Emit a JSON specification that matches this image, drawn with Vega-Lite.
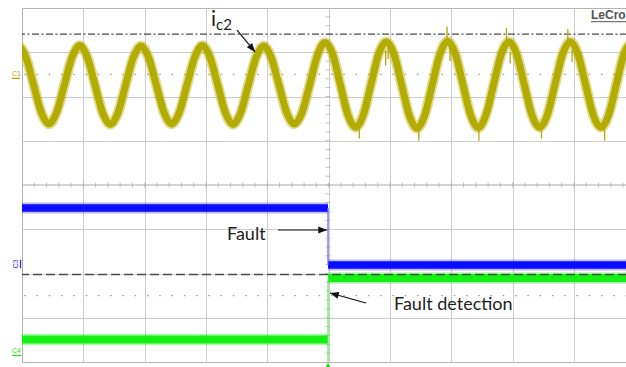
{
  "$schema": "https://vega.github.io/schema/vega-lite/v6.json",
  "width": 605,
  "height": 354,
  "autosize": {"type": "none"},
  "padding": {"left": 22, "top": 8, "right": 0, "bottom": 5},
  "background": "white",
  "config": {
    "view": {"stroke": "#b4b4b4", "strokeWidth": 1},
    "font": "Lato",
    "axis": {"labels": false, "ticks": false, "domain": false, "title": null, "grid": true, "gridColor": "#cdcdcd", "gridWidth": 1}
  },
  "datasets": {
    "sine": [
      {"t": -0.185, "v": 6.88},
      {"t": -0.06, "v": 7.14}, {"t": 0.065, "v": 6.88}, {"t": 0.19, "v": 6.26}, {"t": 0.315, "v": 5.64}, {"t": 0.44, "v": 5.38}, {"t": 0.565, "v": 5.64}, {"t": 0.69, "v": 6.26}, {"t": 0.815, "v": 6.88},
      {"t": 0.94, "v": 7.15}, {"t": 1.065, "v": 6.89}, {"t": 1.19, "v": 6.26}, {"t": 1.315, "v": 5.63}, {"t": 1.44, "v": 5.37}, {"t": 1.565, "v": 5.63}, {"t": 1.69, "v": 6.26}, {"t": 1.815, "v": 6.88},
      {"t": 1.94, "v": 7.14}, {"t": 2.065, "v": 6.88}, {"t": 2.19, "v": 6.26}, {"t": 2.315, "v": 5.64}, {"t": 2.44, "v": 5.38}, {"t": 2.565, "v": 5.64}, {"t": 2.69, "v": 6.26}, {"t": 2.815, "v": 6.88},
      {"t": 2.94, "v": 7.15}, {"t": 3.065, "v": 6.89}, {"t": 3.19, "v": 6.27}, {"t": 3.315, "v": 5.64}, {"t": 3.44, "v": 5.37}, {"t": 3.565, "v": 5.63}, {"t": 3.69, "v": 6.26}, {"t": 3.815, "v": 6.88},
      {"t": 3.94, "v": 7.14}, {"t": 4.065, "v": 6.88}, {"t": 4.19, "v": 6.26}, {"t": 4.315, "v": 5.64}, {"t": 4.44, "v": 5.38}, {"t": 4.565, "v": 5.63}, {"t": 4.69, "v": 6.26}, {"t": 4.815, "v": 6.92},
      {"t": 4.94, "v": 7.22}, {"t": 5.065, "v": 6.96}, {"t": 5.19, "v": 6.27}, {"t": 5.315, "v": 5.58}, {"t": 5.44, "v": 5.3}, {"t": 5.565, "v": 5.58}, {"t": 5.69, "v": 6.27}, {"t": 5.815, "v": 6.96},
      {"t": 5.94, "v": 7.24}, {"t": 6.065, "v": 6.96}, {"t": 6.19, "v": 6.27}, {"t": 6.315, "v": 5.57}, {"t": 6.44, "v": 5.28}, {"t": 6.565, "v": 5.57}, {"t": 6.69, "v": 6.27}, {"t": 6.815, "v": 6.96},
      {"t": 6.94, "v": 7.25}, {"t": 7.065, "v": 6.97}, {"t": 7.19, "v": 6.27}, {"t": 7.315, "v": 5.58}, {"t": 7.44, "v": 5.29}, {"t": 7.565, "v": 5.58}, {"t": 7.69, "v": 6.27}, {"t": 7.815, "v": 6.96},
      {"t": 7.94, "v": 7.24}, {"t": 8.065, "v": 6.96}, {"t": 8.19, "v": 6.27}, {"t": 8.315, "v": 5.58}, {"t": 8.44, "v": 5.3}, {"t": 8.565, "v": 5.58}, {"t": 8.69, "v": 6.27}, {"t": 8.815, "v": 6.96},
      {"t": 8.94, "v": 7.24}, {"t": 9.065, "v": 6.96}, {"t": 9.19, "v": 6.27}, {"t": 9.315, "v": 5.58}, {"t": 9.44, "v": 5.3}, {"t": 9.565, "v": 5.58}, {"t": 9.69, "v": 6.27}, {"t": 9.815, "v": 6.96},
      {"t": 9.94, "v": 7.24}
    ],
    "spikes": [
      {"t": 5.93, "v": 6.7, "v2": 7.05}, {"t": 5.97, "v": 6.85, "v2": 7.1},
      {"t": 6.93, "v": 7.25, "v2": 7.58}, {"t": 6.98, "v": 6.8, "v2": 7.1},
      {"t": 7.9, "v": 7.25, "v2": 7.55}, {"t": 7.96, "v": 6.75, "v2": 7.0},
      {"t": 8.9, "v": 7.25, "v2": 7.53}, {"t": 8.97, "v": 6.78, "v2": 7.05},
      {"t": 5.5, "v": 5.05, "v2": 5.3}, {"t": 6.47, "v": 5.0, "v2": 5.25},
      {"t": 7.45, "v": 5.0, "v2": 5.25}, {"t": 8.47, "v": 5.05, "v2": 5.3},
      {"t": 9.5, "v": 5.0, "v2": 5.3}, {"t": 5.1, "v": 6.6, "v2": 6.95},
      {"t": 6.62, "v": 5.7, "v2": 6.0}
    ],
    "dig": [
      {"t": 0, "v": 3.48, "ch": "C3", "seg": "a"}, {"t": 4.99, "v": 3.48, "ch": "C3", "seg": "a"},
      {"t": 4.99, "v": 2.19, "ch": "C3", "seg": "b"}, {"t": 9.95, "v": 2.19, "ch": "C3", "seg": "b"},
      {"t": 0, "v": 0.51, "ch": "C4", "seg": "c"}, {"t": 4.99, "v": 0.51, "ch": "C4", "seg": "c"},
      {"t": 4.99, "v": 1.9, "ch": "C4", "seg": "d"}, {"t": 9.95, "v": 1.9, "ch": "C4", "seg": "d"}
    ],
    "edges": [
      {"ch": "C3", "t": 4.99, "v": 3.48, "v2": 2.19},
      {"ch": "C4", "t": 4.99, "v": 0, "v2": 1.9}
    ],
    "mx": [
      {"t": 0.2}, {"t": 0.4}, {"t": 0.6}, {"t": 0.8}, {"t": 1}, {"t": 1.2}, {"t": 1.4}, {"t": 1.6}, {"t": 1.8}, {"t": 2},
      {"t": 2.2}, {"t": 2.4}, {"t": 2.6}, {"t": 2.8}, {"t": 3}, {"t": 3.2}, {"t": 3.4}, {"t": 3.6}, {"t": 3.8}, {"t": 4},
      {"t": 4.2}, {"t": 4.4}, {"t": 4.6}, {"t": 4.8}, {"t": 5}, {"t": 5.2}, {"t": 5.4}, {"t": 5.6}, {"t": 5.8}, {"t": 6},
      {"t": 6.2}, {"t": 6.4}, {"t": 6.6}, {"t": 6.8}, {"t": 7}, {"t": 7.2}, {"t": 7.4}, {"t": 7.6}, {"t": 7.8}, {"t": 8},
      {"t": 8.2}, {"t": 8.4}, {"t": 8.6}, {"t": 8.8}, {"t": 9}, {"t": 9.2}, {"t": 9.4}, {"t": 9.6}, {"t": 9.8}
    ],
    "my": [
      {"v": 0.2}, {"v": 0.4}, {"v": 0.6}, {"v": 0.8}, {"v": 1}, {"v": 1.2}, {"v": 1.4}, {"v": 1.6}, {"v": 1.8}, {"v": 2},
      {"v": 2.2}, {"v": 2.4}, {"v": 2.6}, {"v": 2.8}, {"v": 3}, {"v": 3.2}, {"v": 3.4}, {"v": 3.6}, {"v": 3.8}, {"v": 4},
      {"v": 4.2}, {"v": 4.4}, {"v": 4.6}, {"v": 4.8}, {"v": 5}, {"v": 5.2}, {"v": 5.4}, {"v": 5.6}, {"v": 5.8}, {"v": 6},
      {"v": 6.2}, {"v": 6.4}, {"v": 6.6}, {"v": 6.8}, {"v": 7}, {"v": 7.2}, {"v": 7.4}, {"v": 7.6}, {"v": 7.8}
    ],
    "arrows": [
      {"name": "ic2", "t": 3.506, "v": 7.5, "t2": 3.8, "v2": 7.006},
      {"name": "fault", "t": 4.174, "v": 2.983, "t2": 4.974, "v2": 2.983},
      {"name": "det", "t": 5.609, "v": 1.333, "t2": 5.022, "v2": 1.559}
    ],
    "labels": [
      {"t": 3.343, "v": 2.757, "label": "Fault"},
      {"t": 6.066, "v": 1.175, "label": "Fault detection"}
    ],
    "ilabel": [{"t": 3.08, "v": 7.593, "label": "i"}],
    "sublabel": [{"t": 3.165, "v": 7.503, "label": "c2"}],
    "brand": [{"t": 9.278, "v": 7.75, "t2": 9.95, "v2": 7.69, "label": "LeCroy"}],
    "chan": [
      {"ch": "C1", "t": -0.163, "v": 6.46, "ut": -0.163, "ut2": -0.033, "uv": 6.41, "uv2": 6.41},
      {"ch": "C3", "t": -0.07, "v": 2.22, "ut": -0.024, "ut2": -0.024, "uv": 2.31, "uv2": 2.12},
      {"ch": "C4", "t": -0.163, "v": 0.2, "ut": -0.163, "ut2": -0.01, "uv": 0.147, "uv2": 0.147}
    ],
    "trig": [{"t": 4.99, "v": -0.02}]
  },
  "layer": [
    {
      "data": {"name": "mx"},
      "mark": {"type": "tick", "orient": "vertical", "size": 5, "thickness": 1, "color": "#a9a9a9"},
      "encoding": {
        "x": {"field": "t", "type": "quantitative", "scale": {"domain": [0, 9.865], "nice": false, "zero": false}, "axis": {"values": [1, 2, 3, 4, 5, 6, 7, 8, 9]}},
        "y": {"datum": 4, "type": "quantitative", "scale": {"domain": [0, 8], "nice": false, "zero": false}, "axis": {"values": [1, 2, 3, 5, 6, 7]}}
      }
    },
    {
      "data": {"name": "my"},
      "mark": {"type": "tick", "orient": "horizontal", "size": 5, "thickness": 1, "color": "#a9a9a9"},
      "encoding": {"y": {"field": "v", "type": "quantitative"}, "x": {"datum": 4.99}}
    },
    {
      "data": {"values": [{}]},
      "mark": {"type": "rule", "color": "#a9a9a9", "strokeWidth": 1},
      "encoding": {"y": {"datum": 4}}
    },
    {
      "data": {"values": [{}]},
      "mark": {"type": "rule", "color": "#9a9a9a", "strokeWidth": 1.2, "strokeDash": [1.5, 10.77]},
      "encoding": {"y": {"datum": 6.5}}
    },
    {
      "data": {"values": [{}]},
      "mark": {"type": "rule", "color": "#9a9a9a", "strokeWidth": 1.2, "strokeDash": [1.5, 10.77]},
      "encoding": {"y": {"datum": 1.5}}
    },
    {
      "data": {"values": [{}]},
      "mark": {"type": "rule", "color": "#4a4a4a", "strokeWidth": 1.4, "strokeDash": [7, 2.5, 2, 2.5]},
      "encoding": {"y": {"datum": 7.41}}
    },
    {
      "data": {"name": "sine"},
      "mark": {"type": "line", "interpolate": "monotone", "color": "#b3ab00", "strokeWidth": 10.5, "opacity": 0.4, "clip": true, "strokeJoin": "round"},
      "encoding": {"x": {"field": "t", "type": "quantitative"}, "y": {"field": "v", "type": "quantitative"}}
    },
    {
      "data": {"name": "sine"},
      "mark": {"type": "line", "interpolate": "monotone", "color": "#b3ab00", "strokeWidth": 7, "clip": true, "strokeJoin": "round"},
      "encoding": {"x": {"field": "t", "type": "quantitative"}, "y": {"field": "v", "type": "quantitative"}}
    },
    {
      "data": {"name": "spikes"},
      "mark": {"type": "rule", "color": "#b3ab00", "strokeWidth": 1.3},
      "encoding": {"x": {"field": "t", "type": "quantitative"}, "y": {"field": "v", "type": "quantitative"}, "y2": {"field": "v2"}}
    },
    {
      "data": {"name": "dig"},
      "transform": [{"filter": "datum.ch === 'C3'"}],
      "mark": {"type": "line", "color": "#1010ff", "strokeWidth": 11, "opacity": 0.3, "clip": true},
      "encoding": {"x": {"field": "t", "type": "quantitative"}, "y": {"field": "v", "type": "quantitative"}, "detail": {"field": "seg"}}
    },
    {
      "data": {"name": "dig"},
      "transform": [{"filter": "datum.ch === 'C3'"}],
      "mark": {"type": "line", "color": "#0c0cff", "strokeWidth": 7.5, "clip": true},
      "encoding": {"x": {"field": "t", "type": "quantitative"}, "y": {"field": "v", "type": "quantitative"}, "detail": {"field": "seg"}}
    },
    {
      "data": {"name": "dig"},
      "transform": [{"filter": "datum.ch === 'C4'"}],
      "mark": {"type": "line", "color": "#18f018", "strokeWidth": 11.5, "opacity": 0.35, "clip": true},
      "encoding": {"x": {"field": "t", "type": "quantitative"}, "y": {"field": "v", "type": "quantitative"}, "detail": {"field": "seg"}}
    },
    {
      "data": {"name": "dig"},
      "transform": [{"filter": "datum.ch === 'C4'"}],
      "mark": {"type": "line", "color": "#14f014", "strokeWidth": 8, "clip": true},
      "encoding": {"x": {"field": "t", "type": "quantitative"}, "y": {"field": "v", "type": "quantitative"}, "detail": {"field": "seg"}}
    },
    {
      "data": {"name": "edges"},
      "transform": [{"filter": "datum.ch === 'C3'"}],
      "mark": {"type": "rule", "color": "#6b6bff", "strokeWidth": 1.3},
      "encoding": {"x": {"field": "t", "type": "quantitative"}, "y": {"field": "v", "type": "quantitative"}, "y2": {"field": "v2"}}
    },
    {
      "data": {"name": "edges"},
      "transform": [{"filter": "datum.ch === 'C4'"}],
      "mark": {"type": "rule", "color": "#5cf05c", "strokeWidth": 1.3},
      "encoding": {"x": {"field": "t", "type": "quantitative"}, "y": {"field": "v", "type": "quantitative"}, "y2": {"field": "v2"}}
    },
    {
      "data": {"values": [{}]},
      "mark": {"type": "rule", "color": "#4a4a4a", "strokeWidth": 1.5, "strokeDash": [9, 4]},
      "encoding": {"y": {"datum": 1.98}}
    },
    {
      "data": {"name": "trig"},
      "mark": {"type": "point", "shape": "M0,0L1.2,2L-1.2,2Z", "size": 16, "filled": true, "color": "#14e014", "opacity": 1},
      "encoding": {"x": {"field": "t", "type": "quantitative"}, "y": {"field": "v", "type": "quantitative"}}
    },
    {
      "data": {"name": "arrows"},
      "mark": {"type": "rule", "color": "#111111", "strokeWidth": 1.2},
      "encoding": {"x": {"field": "t", "type": "quantitative"}, "y": {"field": "v", "type": "quantitative"}, "x2": {"field": "t2"}, "y2": {"field": "v2"}}
    },
    {
      "data": {"name": "arrows"},
      "transform": [{"filter": "datum.name === 'ic2'"}],
      "mark": {"type": "point", "shape": "M0,0L0.85,2.2L-0.85,2.2Z", "size": 64, "filled": true, "color": "#111111", "opacity": 1, "angle": 140.7},
      "encoding": {"x": {"field": "t2", "type": "quantitative"}, "y": {"field": "v2", "type": "quantitative"}}
    },
    {
      "data": {"name": "arrows"},
      "transform": [{"filter": "datum.name === 'fault'"}],
      "mark": {"type": "point", "shape": "M0,0L0.85,2.2L-0.85,2.2Z", "size": 64, "filled": true, "color": "#111111", "opacity": 1, "angle": 90},
      "encoding": {"x": {"field": "t2", "type": "quantitative"}, "y": {"field": "v2", "type": "quantitative"}}
    },
    {
      "data": {"name": "arrows"},
      "transform": [{"filter": "datum.name === 'det'"}],
      "mark": {"type": "point", "shape": "M0,0L0.85,2.2L-0.85,2.2Z", "size": 64, "filled": true, "color": "#111111", "opacity": 1, "angle": 285.5},
      "encoding": {"x": {"field": "t2", "type": "quantitative"}, "y": {"field": "v2", "type": "quantitative"}}
    },
    {
      "data": {"name": "labels"},
      "mark": {"type": "text", "align": "left", "baseline": "alphabetic", "fontSize": 18, "font": "Lato", "color": "#1e1e1e"},
      "encoding": {"x": {"field": "t", "type": "quantitative"}, "y": {"field": "v", "type": "quantitative"}, "text": {"field": "label"}}
    },
    {
      "data": {"name": "ilabel"},
      "mark": {"type": "text", "align": "left", "baseline": "alphabetic", "fontSize": 21, "font": "Lato", "color": "#1e1e1e"},
      "encoding": {"x": {"field": "t", "type": "quantitative"}, "y": {"field": "v", "type": "quantitative"}, "text": {"field": "label"}}
    },
    {
      "data": {"name": "sublabel"},
      "mark": {"type": "text", "align": "left", "baseline": "alphabetic", "fontSize": 15, "font": "Lato", "color": "#1e1e1e"},
      "encoding": {"x": {"field": "t", "type": "quantitative"}, "y": {"field": "v", "type": "quantitative"}, "text": {"field": "label"}}
    },
    {
      "data": {"name": "brand"},
      "mark": {"type": "text", "align": "left", "baseline": "alphabetic", "fontSize": 12, "fontWeight": "bold", "font": "Liberation Sans", "color": "#555555"},
      "encoding": {"x": {"field": "t", "type": "quantitative"}, "y": {"field": "v", "type": "quantitative"}, "text": {"field": "label"}}
    },
    {
      "data": {"name": "brand"},
      "mark": {"type": "rule", "color": "#555555", "strokeWidth": 1},
      "encoding": {"x": {"field": "t", "type": "quantitative"}, "x2": {"field": "t2"}, "y": {"field": "v2", "type": "quantitative"}}
    },
    {
      "data": {"name": "chan"},
      "transform": [{"filter": "datum.ch === 'C1'"}],
      "mark": {"type": "text", "align": "left", "baseline": "alphabetic", "fontSize": 7, "font": "Liberation Sans", "color": "#b3ab00"},
      "encoding": {"x": {"field": "t", "type": "quantitative"}, "y": {"field": "v", "type": "quantitative"}, "text": {"field": "ch"}}
    },
    {
      "data": {"name": "chan"},
      "transform": [{"filter": "datum.ch === 'C3'"}],
      "mark": {"type": "text", "align": "center", "baseline": "alphabetic", "fontSize": 7, "font": "Liberation Sans", "color": "#3030ff", "angle": 270},
      "encoding": {"x": {"field": "t", "type": "quantitative"}, "y": {"field": "v", "type": "quantitative"}, "text": {"field": "ch"}}
    },
    {
      "data": {"name": "chan"},
      "transform": [{"filter": "datum.ch === 'C4'"}],
      "mark": {"type": "text", "align": "left", "baseline": "alphabetic", "fontSize": 7, "font": "Liberation Sans", "color": "#22dd22"},
      "encoding": {"x": {"field": "t", "type": "quantitative"}, "y": {"field": "v", "type": "quantitative"}, "text": {"field": "ch"}}
    },
    {
      "data": {"name": "chan"},
      "transform": [{"filter": "datum.ch === 'C1'"}],
      "mark": {"type": "rule", "color": "#b3ab00", "strokeWidth": 1.3},
      "encoding": {"x": {"field": "ut", "type": "quantitative"}, "x2": {"field": "ut2"}, "y": {"field": "uv", "type": "quantitative"}, "y2": {"field": "uv2"}}
    },
    {
      "data": {"name": "chan"},
      "transform": [{"filter": "datum.ch === 'C3'"}],
      "mark": {"type": "rule", "color": "#3030ff", "strokeWidth": 1.3},
      "encoding": {"x": {"field": "ut", "type": "quantitative"}, "x2": {"field": "ut2"}, "y": {"field": "uv", "type": "quantitative"}, "y2": {"field": "uv2"}}
    },
    {
      "data": {"name": "chan"},
      "transform": [{"filter": "datum.ch === 'C4'"}],
      "mark": {"type": "rule", "color": "#22dd22", "strokeWidth": 1.3},
      "encoding": {"x": {"field": "ut", "type": "quantitative"}, "x2": {"field": "ut2"}, "y": {"field": "uv", "type": "quantitative"}, "y2": {"field": "uv2"}}
    }
  ]
}
